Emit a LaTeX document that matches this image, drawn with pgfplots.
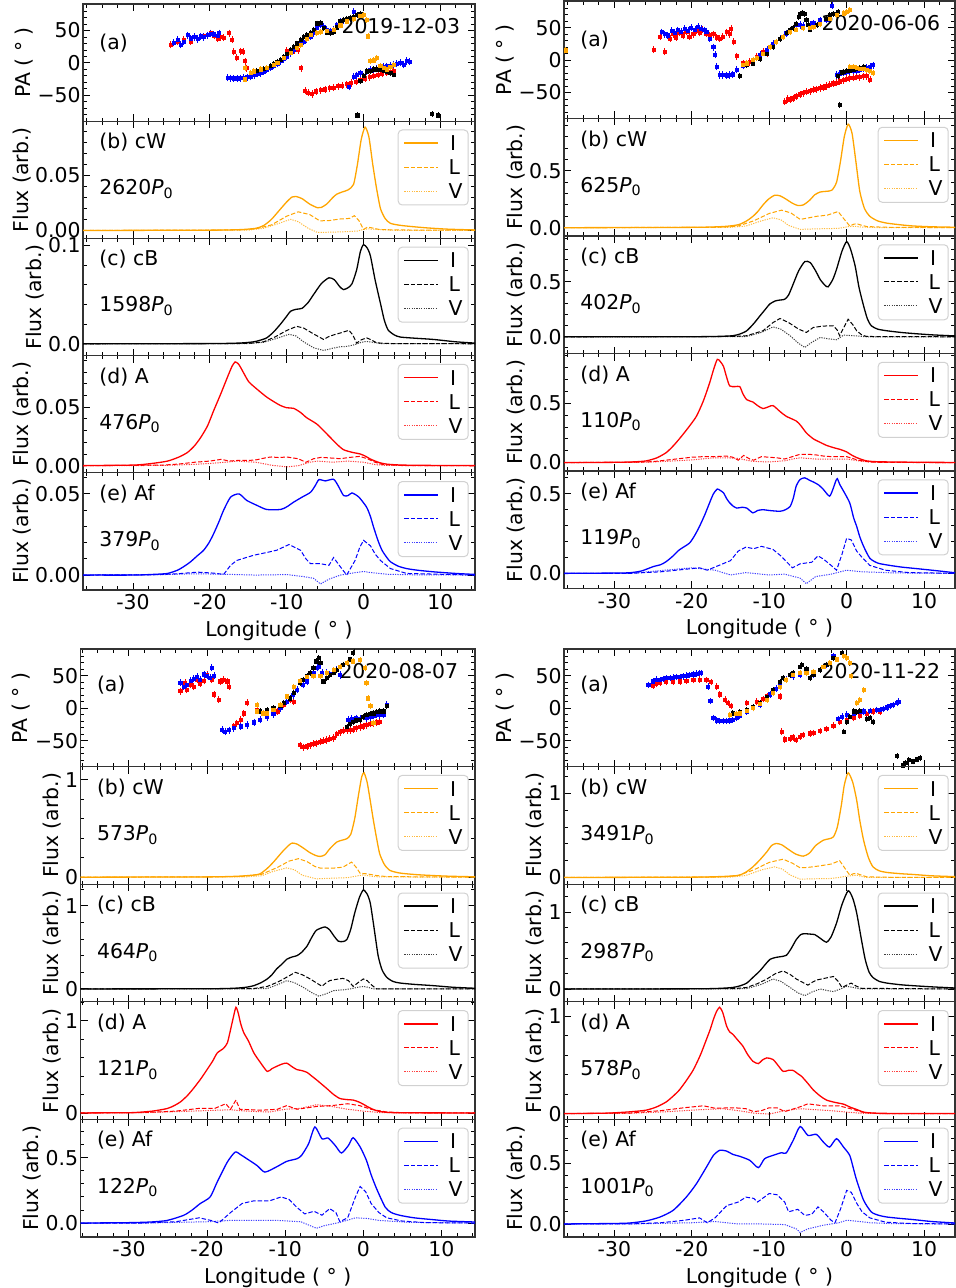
\documentclass[border=0pt]{standalone}
\usepackage{fontspec}
\setmainfont{DejaVu Sans}
\usepackage{pgfplots}
\pgfplotsset{compat=1.18}
\definecolor{mplorange}{RGB}{255,165,0}
\tikzset{
  Iline/.style={line width=0.65pt, smooth, tension=0.4},
  Lline/.style={line width=0.5pt, dash pattern=on 2.2pt off 1pt},
  Vline/.style={line width=0.5pt, dash pattern=on 0.6pt off 0.6pt, opacity=0.75},
}
\pgfplotsset{
  base/.style={scale only axis, anchor=north west,
    font=\fontsize{10.2}{12.2}\selectfont,
    scaled ticks=false,
    xtick={-30,-20,-10,0,10}, xticklabels={},
    minor xtick={-36,-34,...,14},
    tick align=inside,
    major tick length=3.5pt, minor tick length=1.8pt,
    every tick/.style={black, line width=0.45pt},
    axis line style={black!80, line width=0.6pt},
    yticklabel style={inner sep=1pt},
    xticklabel style={inner sep=2pt},
    ylabel style={inner sep=1pt},
    /pgf/number format/assume math mode=true},
  flux/.style={base, ylabel={Flux (arb.)}},
  pa/.style={base, ymin=-90, ymax=91, ytick={-50,0,50}, yticklabels={−50,0,50},
    minor ytick={-80,-70,-60,-40,-30,-20,-10,10,20,30,40,60,70,80,90},
    ylabel={PA ( ° )}},
  bottom/.style={xticklabels={-30,-20,-10,0,10}, xlabel={Longitude ( ° )}},
  TL/.style={width=196pt, height=58.6pt, xmin=-36.5, xmax=14.5},
  TR/.style={width=195.5pt, height=58.75pt, xmin=-36.5, xmax=14},
  BL/.style={width=197.25pt, height=58.8pt, xmin=-36.2, xmax=14.3},
  BR/.style={width=195.5pt, height=58.8pt, xmin=-36.5, xmax=14},
  pts/.style={only marks, mark=square*, mark size=0.8pt,
    error bars/y dir=both, error bars/y fixed=#1,
    error bars/error bar style={line width=0.35pt},
    error bars/error mark options={mark size=0.8pt, line width=0.35pt}},
}
% legend: box and samples drawn as plots (x positions per block in \lxL,\lxR,\lxa,\lxb)
\newcommand{\leg}[6]{%
  \addplot[draw=black!18, fill=white, line width=0.5pt, rounded corners=2pt] coordinates {(\lxL,#2) (\lxR,#2) (\lxR,#3) (\lxL,#3)} -- cycle;
  \addplot[#1, line width=0.75pt] coordinates {(\lxa,#4) (\lxb,#4)};
  \addplot[#1, Lline] coordinates {(\lxa,#5) (\lxb,#5)};
  \addplot[#1, Vline] coordinates {(\lxa,#6) (\lxb,#6)};
  \node[anchor=west, inner sep=0pt] at ([xshift=-12.6pt,yshift=-11pt]rel axis cs:1,1) {I};
  \node[anchor=west, inner sep=0pt] at ([xshift=-13.4pt,yshift=-23pt]rel axis cs:1,1) {L};
  \node[anchor=west, inner sep=0pt] at ([xshift=-13.4pt,yshift=-35pt]rel axis cs:1,1) {V};
}
\begin{document}
\begin{tikzpicture}[font=\fontsize{10.2}{12.2}\selectfont]
%================ TOP LEFT 2019-12-03 ================
\def\lxL{4.508}\def\lxR{13.615}\def\lxa{5.315}\def\lxb{9.66}
\begin{axis}[pa, TL, at={(41.5pt,-2pt)}]
\addplot[red, pts=3] coordinates {(-25.1,28) (-24.2,33) (-23.4,36) (-22.5,33) (-21.6,37) (-20.8,41) (-19.9,46) (-19.4,42) (-19,38) (-18.6,40) (-18.2,39) (-17.5,46) (-17.1,36) (-16.9,17) (-16.5,8) (-16,18) (-15.7,17) (-15.4,2.5) (-15.2,-8) (-10,19) (-9.5,19) (-9,19.5) (-8.5,20) (-8.1,-8) (-7.6,-43) (-7.2,-46) (-6.7,-48) (-6.2,-44) (-5.6,-42) (-5,-41) (-4.4,-39) (-3.9,-38) (-3.3,-36) (-2.8,-35) (-2.2,-33) (-1.6,-31) (-1,-29) (-0.4,-26.5) (0.2,-24) (0.8,-22) (1.3,-20) (1.9,-18) (2.4,-17) (3,-15) (3.5,-14) (3.9,-13)};
\addplot[blue, pts=3] coordinates {(-24.7,31) (-24.2,36) (-23.8,28) (-23.4,33) (-22.9,43) (-22.5,38) (-22,40) (-21.6,37) (-21.2,41) (-20.8,40) (-20.3,43) (-19.9,45) (-19.5,44) (-19,42) (-18.8,46) (-17.7,-23) (-17.3,-23.5) (-16.9,-24) (-16.4,-24) (-16,-23.5) (-15.6,-23) (-15.1,-22) (-14.7,-21.4) (-14.2,-19) (-13.8,-17) (-13.4,-16) (-13,-13) (-12.6,-10) (-12.1,-7) (-11.7,-4) (-11.2,-1) (-10.8,2.5) (-10.4,6) (-10,10) (-9.5,15) (-9.1,20) (-8.7,25) (-8.2,29) (-7.8,33) (-7.4,37) (-6.9,41) (-6.5,46) (-6.1,54) (-5.6,59) (-5.2,56) (-4.8,51) (-4.3,49) (-3.9,51) (-3.5,58) (-3,64) (-2.6,66) (-2.2,67) (-1.7,69) (-1.3,79) (-1.9,-37) (-1.3,-21) (-0.9,-19) (-0.4,-16) (0.4,-13) (0.9,-11) (1.3,-10) (1.7,-9) (2.2,-8) (2.6,-6) (3,-5) (3.5,-4) (3.9,-2.5) (4.3,-1) (4.8,0) (5.2,-3) (5.6,3) (6,2)};
\addplot[black, pts=2] coordinates {(-14.3,-14) (-13.9,-12) (-13.4,-11) (-13,-9.5) (-12.6,-8) (-12.1,-5) (-11.7,-2) (-11.2,2) (-10.8,5) (-10.4,9) (-10,14) (-9.5,20) (-9.1,25) (-8.7,30) (-8.2,36) (-7.8,40) (-7.4,43) (-6.9,46) (-6.5,51) (-6,61) (-5.6,62) (-5.2,54) (-4.8,47) (-4.3,46) (-3.9,48) (-3.5,55) (-3,64) (-2.6,66) (-2.2,68) (-1.7,70) (-1.3,71) (-0.8,74) (-0.4,76) (-0.8,-81) (-0.4,-28) (0,-20) (0.4,-13) (0.9,-12) (1.3,-10) (1.7,-10) (2.2,-11) (2.6,-12) (3,-13) (3.5,-16) (3.9,-18) (8.9,-79) (9.7,-81)};
\addplot[mplorange, pts=2] coordinates {(-15.4,-25.5) (-15.4,-8) (-14.7,-15) (-14.3,-13) (-13.4,-10) (-12.6,-8) (-11.7,-3) (-11.2,0) (-10.4,8) (-9.5,16) (-8.7,23) (-8.2,28) (-7.4,37) (-6.9,43) (-6.1,46) (-5.6,48) (-4.8,49) (-3.9,51) (-3,58) (-2.2,64) (-1.3,68) (-0.4,72) (0,74) (0.4,66) (0.6,41) (0.9,2.5) (1.3,4) (1.7,8) (2.2,-5) (2.6,-8) (3,-10) (3.5,-6) (3.9,-2.5)};
\node[anchor=west] at (rel axis cs:0.024,0.67) {(a)};
\node[anchor=east] at (rel axis cs:0.98,0.81) {2019-12-03};
\end{axis}
\begin{axis}[flux, TL, at={(41.5pt,-60.6pt)}, ymin=-0.0072, ymax=0.0995, ytick={0,0.05}, yticklabels={0.00,0.05}, minor ytick={0.01,0.02,0.03,0.04,0.06,0.07,0.08,0.09}]
\addplot[mplorange,Iline] coordinates {(-36.5,0) (-20,0.0003) (-16,0.0008) (-14,0.002) (-13,0.0045) (-12,0.01) (-11,0.018) (-10,0.026) (-9.3,0.0305) (-8.8,0.031) (-8,0.029) (-7,0.024) (-6,0.0207) (-5.5,0.021) (-4.8,0.024) (-4,0.03) (-3.5,0.033) (-2.8,0.035) (-2,0.037) (-1.3,0.042) (-0.8,0.06) (-0.3,0.083) (0.2,0.094) (0.7,0.085) (1.2,0.06) (1.7,0.038) (2.2,0.02) (2.8,0.011) (3.5,0.0065) (5,0.0045) (8,0.0025) (11,0.0012) (14.5,0.0005)};
\addplot[mplorange,Lline] coordinates {(-36.5,0) (-16,0.0005) (-14,0.0015) (-12,0.005) (-10,0.013) (-8.5,0.017) (-7,0.0145) (-5.7,0.0088) (-4.5,0.009) (-3,0.0105) (-1.8,0.011) (-1.2,0.0135) (-0.6,0.009) (0,0.001) (0.5,0.003) (1,0.0025) (2,0.001) (4,0.0005) (14.5,0.0002)};
\addplot[mplorange,Vline] coordinates {(-36.5,0) (-15,0.0003) (-13,0.002) (-11,0.0065) (-9.5,0.0102) (-8.5,0.008) (-7.2,0.002) (-6,-0.0018) (-4,-0.0015) (-2,-0.001) (-0.8,-0.0005) (0,0.001) (0.6,0.0015) (2,0.0008) (4,0.0002) (14.5,0)};
\leg{mplorange}{0.09149}{0.02321}{0.07947}{0.05762}{0.03577}
\node[anchor=west] at (rel axis cs:0.024,0.82) {(b) cW};
\node[anchor=west] at (rel axis cs:0.024,0.42) {2620\textit{P}\textsubscript{0}};
\end{axis}
\begin{axis}[flux, TL, at={(41.5pt,-119.2pt)}, ymin=-0.012, ymax=0.107, ytick={0,0.1}, yticklabels={0.0,0.1}, minor ytick={0.02,0.04,0.06,0.08}]
\addplot[black,Iline] coordinates {(-36.5,0) (-20,0.0002) (-16,0.0008) (-14.3,0.002) (-13.5,0.0035) (-12.6,0.006) (-11.7,0.012) (-10.8,0.02) (-10,0.028) (-9.5,0.033) (-8.8,0.035) (-8,0.036) (-7.2,0.042) (-6.5,0.05) (-5.5,0.061) (-4.5,0.067) (-3.8,0.065) (-3.1,0.058) (-2.6,0.055) (-2,0.057) (-1.5,0.061) (-0.9,0.075) (-0.4,0.094) (0,0.1007) (0.5,0.097) (0.9,0.089) (1.5,0.065) (2.2,0.041) (2.7,0.024) (3.2,0.014) (4,0.009) (4.8,0.0068) (7,0.0055) (9.1,0.0044) (12,0.002) (14.5,0.0007)};
\addplot[black,Lline] coordinates {(-36.5,0) (-15,0.0003) (-13,0.002) (-11.5,0.007) (-10,0.0135) (-8.7,0.0177) (-7.8,0.016) (-6.5,0.01) (-5.2,0.0044) (-4.6,0.007) (-3.9,0.009) (-3,0.011) (-1.9,0.0137) (-1.4,0.009) (-0.9,0.0007) (-0.3,0.004) (0.4,0.006) (1,0.004) (1.7,0.001) (3,0.0003) (14.5,0)};
\addplot[black,Vline] coordinates {(-36.5,0) (-15,0.0002) (-13,0.0015) (-11.5,0.005) (-9.7,0.0096) (-8.8,0.008) (-7.8,0.002) (-6.5,-0.004) (-5.2,-0.0068) (-4,-0.0045) (-3,-0.003) (-2.2,-0.0027) (-1.2,-0.001) (-0.3,0.0015) (0.4,0.0024) (1.2,0.0015) (2.2,0.0002) (14.5,0)};
\leg{black}{0.09806}{0.02191}{0.08466}{0.06029}{0.03592}
\node[anchor=west] at (rel axis cs:0.024,0.82) {(c) cB};
\node[anchor=west] at (rel axis cs:0.024,0.42) {1598\textit{P}\textsubscript{0}};
\end{axis}
\begin{axis}[flux, TL, at={(41.5pt,-177.8pt)}, ymin=-0.006, ymax=0.094, ytick={0,0.05}, yticklabels={0.00,0.05}, minor ytick={0.01,0.02,0.03,0.04,0.06,0.07,0.08,0.09}]
\addplot[red,Iline] coordinates {(-36.5,0.0002) (-29.9,0.0006) (-27.5,0.002) (-25.5,0.004) (-24,0.0075) (-22.9,0.0114) (-22,0.017) (-21.2,0.024) (-20.3,0.034) (-19.5,0.047) (-18.6,0.061) (-17.7,0.0757) (-17.1,0.085) (-16.7,0.0886) (-16.3,0.087) (-16,0.084) (-15.5,0.078) (-14.9,0.0714) (-13.8,0.065) (-12.6,0.0586) (-11.5,0.054) (-10.8,0.0514) (-10,0.0495) (-9.1,0.049) (-8.2,0.0455) (-7.4,0.041) (-6.1,0.0357) (-5.2,0.03) (-4.3,0.024) (-3.4,0.018) (-2.6,0.0137) (-1.5,0.0115) (-0.4,0.01) (0.3,0.008) (0.9,0.0057) (2,0.0028) (3,0.0014) (5,0.0006) (9.1,0.0003) (14.5,0.0002)};
\addplot[red,Lline] coordinates {(-36.5,0) (-26,0.0006) (-24,0.0015) (-22,0.003) (-20,0.004) (-18.5,0.0055) (-17.5,0.004) (-16.5,0.0045) (-15,0.0045) (-14,0.005) (-12.6,0.007) (-12,0.0075) (-11,0.007) (-10,0.0075) (-8.5,0.006) (-7.5,0.003) (-6.5,0.006) (-5.5,0.0072) (-4,0.0065) (-3,0.006) (-2,0.007) (-0.5,0.008) (0.5,0.006) (1.5,0.003) (2.5,0.001) (5,0.0002) (14.5,0)};
\addplot[red,Vline] coordinates {(-36.5,0) (-26,0.0003) (-22,0.0012) (-20,0.002) (-18,0.003) (-16.5,0.004) (-14,0.003) (-12,0.0005) (-10,-0.001) (-8.5,0) (-7,0.003) (-6,0.004) (-4,0.003) (-2,0.004) (0,0.003) (1.5,0.001) (3,0.0003) (14.5,0)};
\leg{red}{0.08649}{0.0225}{0.07523}{0.05475}{0.03427}
\node[anchor=west] at (rel axis cs:0.024,0.82) {(d) A};
\node[anchor=west] at (rel axis cs:0.024,0.42) {476\textit{P}\textsubscript{0}};
\end{axis}
\begin{axis}[flux, TL, bottom, at={(41.5pt,-236.4pt)}, ymin=-0.0092, ymax=0.063, ytick={0,0.05}, yticklabels={0.00,0.05}, minor ytick={0.01,0.02,0.03,0.04,0.06}]
\addplot[blue,Iline] coordinates {(-36.5,0) (-29.9,0) (-27,0.0005) (-25.5,0.001) (-24.2,0.003) (-23.3,0.0055) (-22.5,0.0082) (-21.6,0.012) (-20.8,0.0153) (-20.1,0.02) (-19.5,0.0255) (-18.8,0.033) (-18.2,0.04) (-17.3,0.048) (-16.2,0.05) (-15.2,0.046) (-13.9,0.043) (-12.6,0.0404) (-10.8,0.0404) (-10,0.042) (-9.1,0.0449) (-8,0.048) (-6.9,0.051) (-6.3,0.055) (-5.8,0.0588) (-5,0.058) (-3.9,0.059) (-3.3,0.055) (-2.6,0.049) (-2,0.049) (-1.5,0.0506) (-0.6,0.048) (0.4,0.0418) (0.9,0.036) (1.3,0.0296) (1.9,0.021) (2.4,0.0153) (3,0.011) (3.5,0.0082) (4.5,0.0055) (5.6,0.004) (7,0.003) (9.1,0.002) (12,0.001) (14.5,0.0004)};
\addplot[blue,Lline] coordinates {(-36.5,0) (-27,0.0002) (-24.2,0.0008) (-21.6,0.0018) (-19.5,0.0012) (-18.2,0.0004) (-17.3,0.006) (-16.5,0.009) (-14.3,0.0122) (-12.5,0.014) (-11.3,0.0153) (-9.7,0.0188) (-8.2,0.0153) (-7.5,0.01) (-6.9,0.007) (-5.6,0.007) (-4.5,0.006) (-3.9,0.0108) (-3,0.005) (-2.2,0) (-1.1,0.009) (-0.5,0.017) (0,0.0214) (0.9,0.018) (1.5,0.013) (2.2,0.009) (3.5,0.004) (5.6,0.001) (14.5,0)};
\addplot[blue,Vline] coordinates {(-36.5,0) (-26,0.0003) (-22,0.0008) (-18,0.0005) (-14,0) (-10,0.0003) (-8,-0.0008) (-6.5,-0.002) (-5.6,-0.0055) (-4.5,-0.0025) (-3,0) (-1.5,0.0012) (0,0.0022) (1,0.0015) (3,0.0005) (6,0.0002) (14.5,0)};
\leg{blue}{0.05758}{0.01138}{0.04945}{0.03466}{0.01988}
\node[anchor=west] at (rel axis cs:0.024,0.82) {(e) Af};
\node[anchor=west] at (rel axis cs:0.024,0.42) {379\textit{P}\textsubscript{0}};
\end{axis}
%================ TOP RIGHT 2020-06-06 ================
\def\lxL{4.081}\def\lxR{13.122}\def\lxa{4.882}\def\lxb{9.195}
\begin{axis}[pa, TR, at={(282pt,-0.5pt)}]
\addplot[red, pts=3] coordinates {(-24.9,16) (-24.1,36) (-23.5,13) (-22.8,33) (-22.4,40) (-22,35) (-21.6,42) (-21.1,38) (-20.7,44) (-20.3,36) (-19.8,40) (-19.4,45) (-19,42) (-18.6,47) (-18.1,41) (-17.7,38) (-17.2,40) (-16.8,35) (-16.4,33) (-16,36) (-15.5,43) (-15.1,40) (-14.9,48) (-14.6,28) (-14.2,6) (-13.4,-5) (-12.5,-3) (-11.6,5) (-10.8,13) (-10.3,10) (-8,-64) (-7.6,-60) (-7.3,-61) (-6.9,-59) (-6.5,-56) (-6,-53) (-5.6,-51) (-5.2,-49) (-4.7,-48) (-4.3,-46) (-3.9,-45) (-3.4,-43) (-3,-42) (-2.6,-40) (-2.2,-38) (-1.7,-36) (-1.3,-35) (-0.9,-33) (-0.4,-31) (0,-29) (0.4,-28) (0.9,-27) (1.3,-26) (1.7,-26.5) (2.2,-25) (2.6,-24.5) (3,-30)};
\addplot[blue, pts=3] coordinates {(-23.9,43) (-23.5,40) (-23.1,38) (-22.6,45) (-22.2,42) (-21.8,46) (-21.4,44) (-20.9,48) (-20.5,45) (-20.1,50) (-19.6,47) (-19.2,51) (-18.8,48) (-18.4,46) (-18.1,44) (-17.7,33) (-17.2,20) (-17,8) (-16.8,-10) (-16.4,-23) (-16,-23) (-15.5,-23.5) (-15.1,-23) (-14.7,-22) (-14.2,-15) (-13.4,-9) (-12.9,-5) (-12.1,0) (-11.2,8) (-10.3,16) (-9.5,25) (-8.6,33) (-7.8,41) (-7.3,46) (-6.5,54) (-6,54) (-5.6,53) (-4.7,54) (-4.3,57) (-3.4,61) (-2.6,62) (-2.2,64) (-1.9,84) (-1.3,-23) (-0.9,-21) (-0.4,-19) (0,-18) (0.4,-17) (0.9,-16) (1.3,-16) (1.7,-15) (2.2,-13) (2.6,-12) (3,-10) (3.4,-8)};
\addplot[black, pts=2] coordinates {(-13.8,-25) (-13.4,-8) (-12.9,-7) (-12.1,-5) (-11.2,2) (-10.3,10) (-9.5,20) (-8.6,33) (-7.7,42) (-7.3,46) (-6.9,50) (-6.5,56) (-6.2,66) (-6,71) (-5.7,73) (-5.4,71) (-5.2,62) (-5,54) (-4.7,47) (-4.3,51) (-3.8,54) (-3.4,56) (-2.6,63) (-2.2,69) (-1.7,71) (-1.1,74) (-0.9,-69) (-1.1,-25) (-0.6,-19) (-0.4,-18) (0,-17) (0.4,-16) (0.9,-15) (1.3,-13) (1.7,-12) (2.2,-10)};
\addplot[mplorange, pts=2] coordinates {(-36.3,15) (-13.4,-8) (-12.9,-5) (-12.1,0) (-11.6,3) (-10.8,10) (-9.9,20) (-9.1,28) (-8.2,36) (-7.3,43) (-6.5,47) (-5.6,49) (-4.7,50) (-4.3,51) (-3.4,56) (-2.2,64) (-1.3,69) (-0.4,72) (0,74) (0.4,77) (0.4,-10) (0.9,-11) (1.3,-12) (1.7,-13) (2.2,-13) (2.6,-15) (3,-17) (3.4,-20)};
\node[anchor=west] at (rel axis cs:0.024,0.67) {(a)};
\node[anchor=east] at (rel axis cs:0.98,0.81) {2020-06-06};
\end{axis}
\begin{axis}[flux, TR, at={(282pt,-59.25pt)}, ymin=-0.073, ymax=0.96, ytick={0,0.5}, yticklabels={0.0,0.5}, minor ytick={0.1,0.2,0.3,0.4,0.6,0.7,0.8,0.9}]
\addplot[mplorange,Iline] coordinates {(-36.5,0) (-20,0.003) (-16,0.01) (-14.5,0.02) (-13.8,0.03) (-12.9,0.06) (-12.1,0.1) (-11.5,0.14) (-10.8,0.2) (-10.1,0.25) (-9.3,0.285) (-8.6,0.28) (-7.8,0.25) (-7,0.215) (-6.3,0.195) (-5.6,0.2) (-4.8,0.24) (-4.1,0.29) (-3.4,0.314) (-2.6,0.32) (-1.9,0.33) (-1.3,0.4) (-0.8,0.58) (-0.3,0.8) (0.2,0.91) (0.7,0.83) (1.2,0.58) (1.7,0.32) (2.3,0.17) (3,0.1) (4,0.06) (5.2,0.04) (7,0.025) (8.6,0.015) (11,0.008) (14,0.004)};
\addplot[mplorange,Lline] coordinates {(-36.5,0) (-16,0.004) (-14,0.015) (-12,0.06) (-10,0.125) (-8.4,0.154) (-7.2,0.13) (-6,0.073) (-5,0.085) (-3.9,0.1) (-2.5,0.11) (-1.1,0.142) (-0.5,0.09) (0.4,0.015) (0.9,0.03) (1.3,0.035) (2,0.02) (2.6,0.01) (5,0.004) (14,0)};
\addplot[mplorange,Vline] coordinates {(-36.5,0) (-15,0.003) (-13,0.015) (-11,0.06) (-9.5,0.087) (-8.5,0.07) (-7.5,0.02) (-6,-0.015) (-4,-0.01) (-2,-0.008) (-1,-0.005) (0.3,0.01) (1,0.012) (2,0.005) (4,0.001) (14,0)};
\leg{mplorange}{0.88264}{0.22327}{0.76659}{0.55559}{0.3446}
\node[anchor=west] at (rel axis cs:0.024,0.82) {(b) cW};
\node[anchor=west] at (rel axis cs:0.024,0.42) {625\textit{P}\textsubscript{0}};
\end{axis}
\begin{axis}[flux, TR, at={(282pt,-118pt)}, ymin=-0.152, ymax=0.918, ytick={0,0.5}, yticklabels={0.0,0.5}, minor ytick={-0.1,0.1,0.2,0.3,0.4,0.6,0.7,0.8,0.9}]
\addplot[black,Iline] coordinates {(-36.5,0) (-20,0.001) (-16.5,0.004) (-14.7,0.01) (-13.8,0.025) (-12.9,0.055) (-12,0.12) (-11.2,0.19) (-10.5,0.25) (-9.9,0.3) (-9.2,0.327) (-8.8,0.333) (-8,0.342) (-7.5,0.38) (-6.9,0.48) (-6.2,0.6) (-5.4,0.685) (-4.7,0.676) (-4,0.6) (-3.4,0.52) (-2.8,0.47) (-2.4,0.455) (-1.8,0.52) (-1.3,0.615) (-0.6,0.78) (0,0.867) (0.5,0.8) (1.1,0.645) (1.6,0.45) (2.2,0.28) (2.7,0.16) (3.2,0.1) (4,0.07) (5.2,0.055) (7,0.04) (8.6,0.03) (11,0.018) (14,0.008)};
\addplot[black,Lline] coordinates {(-36.5,0) (-14.5,0.003) (-12.9,0.01) (-10.8,0.055) (-9.5,0.13) (-8.6,0.167) (-7.5,0.13) (-6.2,0.07) (-5.2,0.04) (-4.3,0.085) (-3,0.098) (-1.7,0.1) (-1.2,0.06) (-0.9,0.01) (-0.4,0.08) (0.2,0.16) (0.8,0.11) (1.3,0.055) (2,0.015) (2.6,0.003) (14,0)};
\addplot[black,Vline] coordinates {(-36.5,0) (-14,0.001) (-12.9,0.003) (-11,0.04) (-9.5,0.09) (-8.5,0.07) (-7.3,0.01) (-6.2,-0.06) (-5.4,-0.097) (-4.5,-0.05) (-3.4,-0.006) (-2.2,-0.02) (-1.3,-0.027) (-0.4,0.015) (0.9,0.01) (2.6,0) (14,0)};
\leg{black}{0.83787}{0.15489}{0.71766}{0.49911}{0.28056}
\node[anchor=west] at (rel axis cs:0.024,0.82) {(c) cB};
\node[anchor=west] at (rel axis cs:0.024,0.42) {402\textit{P}\textsubscript{0}};
\end{axis}
\begin{axis}[flux, TR, at={(282pt,-176.75pt)}, ymin=-0.071, ymax=0.919, ytick={0,0.5}, yticklabels={0.0,0.5}, minor ytick={0.1,0.2,0.3,0.4,0.6,0.7,0.8,0.9}]
\addplot[red,Iline] coordinates {(-36.5,0) (-30,0.002) (-27.5,0.006) (-25.9,0.014) (-24.5,0.04) (-23.3,0.084) (-22.4,0.14) (-21.6,0.2) (-20.5,0.29) (-19.4,0.39) (-18.5,0.52) (-17.7,0.67) (-17.2,0.78) (-16.7,0.87) (-16.3,0.85) (-15.9,0.81) (-15.5,0.72) (-15.1,0.646) (-14.4,0.64) (-13.8,0.64) (-13.4,0.58) (-12.9,0.53) (-12.1,0.51) (-11.5,0.48) (-10.8,0.455) (-10.1,0.47) (-9.5,0.48) (-8.6,0.43) (-7.8,0.39) (-6.5,0.35) (-5.9,0.31) (-5.2,0.25) (-4.3,0.2) (-3.4,0.17) (-2.6,0.145) (-1.7,0.126) (-0.8,0.11) (0,0.09) (0.6,0.065) (1.3,0.042) (2,0.025) (2.6,0.014) (4,0.007) (8.6,0.003) (14,0.001)};
\addplot[red,Lline] coordinates {(-36.5,0) (-27,0.003) (-25,0.008) (-22,0.03) (-20,0.045) (-18.5,0.05) (-17,0.05) (-15.5,0.055) (-14.7,0.045) (-14,0.02) (-13.3,0.06) (-12.5,0.03) (-12,0.02) (-11,0.05) (-10,0.045) (-9,0.04) (-8,0.03) (-7,0.05) (-6,0.07) (-5,0.07) (-4,0.065) (-3,0.055) (-2,0.05) (-1,0.05) (0,0.05) (1,0.03) (1.5,0.02) (3,0.005) (5,0.001) (14,0)};
\addplot[red,Vline] coordinates {(-36.5,0) (-27,0.002) (-25,0.005) (-22,0.015) (-20,0.022) (-18,0.035) (-17,0.04) (-15.5,0.04) (-14,0.035) (-12.5,0.015) (-12,0.01) (-10,0.005) (-9,0.01) (-8,0.015) (-7,0.03) (-6,0.04) (-5,0.035) (-4,0.03) (-2,0.03) (0,0.03) (1,0.02) (2,0.01) (4,0.002) (14,0)};
\leg{red}{0.84486}{0.21294}{0.73364}{0.53142}{0.32922}
\node[anchor=west] at (rel axis cs:0.024,0.82) {(d) A};
\node[anchor=west] at (rel axis cs:0.024,0.42) {110\textit{P}\textsubscript{0}};
\end{axis}
\begin{axis}[flux, TR, bottom, at={(282pt,-235.5pt)}, ymin=-0.095, ymax=0.643, ytick={0,0.5}, yticklabels={0.0,0.5}, minor ytick={0.1,0.2,0.3,0.4,0.6}]
\addplot[blue,Iline] coordinates {(-36.5,0) (-30,0.002) (-28,0.004) (-26.5,0.015) (-25,0.042) (-24,0.055) (-23.3,0.074) (-22.4,0.11) (-21.6,0.148) (-20.3,0.19) (-19.6,0.24) (-19,0.295) (-18.3,0.37) (-17.7,0.443) (-17.2,0.5) (-16.7,0.53) (-16.3,0.52) (-15.9,0.506) (-15.5,0.47) (-15.1,0.443) (-14.6,0.42) (-14.2,0.41) (-13.5,0.415) (-12.9,0.41) (-12.1,0.38) (-11.5,0.395) (-10.8,0.4) (-10,0.395) (-8.6,0.39) (-7.9,0.4) (-7.3,0.42) (-6.9,0.47) (-6.5,0.55) (-6,0.59) (-5.4,0.6) (-4.8,0.585) (-4.3,0.574) (-3.6,0.555) (-3,0.527) (-2.2,0.485) (-1.7,0.538) (-1.4,0.58) (-1.2,0.595) (-0.9,0.56) (-0.4,0.517) (0.4,0.443) (0.9,0.35) (1.3,0.295) (1.7,0.23) (2.2,0.169) (3,0.095) (4,0.065) (5.2,0.053) (7,0.04) (8.6,0.032) (11,0.02) (14,0.004)};
\addplot[blue,Lline] coordinates {(-36.5,0) (-28,0) (-24,0.01) (-20,0.03) (-19,0.035) (-18,0.02) (-16.5,0.05) (-15,0.08) (-14,0.14) (-13,0.165) (-12,0.155) (-11,0.17) (-9.5,0.15) (-8.5,0.11) (-7,0.035) (-6,0.06) (-4.5,0.07) (-3.7,0.11) (-3,0.09) (-2,0.05) (-1.3,0.02) (-0.6,0.12) (0,0.22) (0.6,0.21) (1.3,0.14) (2,0.1) (3,0.05) (5,0.02) (8,0.005) (14,0)};
\addplot[blue,Vline] coordinates {(-36.5,0) (-28,0) (-20,0.035) (-17,0.02) (-15,-0.01) (-13,0.005) (-10,-0.01) (-8,-0.005) (-6,-0.03) (-5.2,-0.065) (-4,-0.02) (-2,-0.005) (0,0.02) (2,0.01) (6,0.003) (14,0)};
\leg{blue}{0.58773}{0.11667}{0.50482}{0.35408}{0.20334}
\node[anchor=west] at (rel axis cs:0.024,0.82) {(e) Af};
\node[anchor=west] at (rel axis cs:0.024,0.42) {119\textit{P}\textsubscript{0}};
\end{axis}
%================ BOTTOM LEFT 2020-08-07 ================
\def\lxL{4.469}\def\lxR{13.43}\def\lxa{5.263}\def\lxb{9.538}
\begin{axis}[pa, BL, at={(40.25pt,-324.5pt)}]
\addplot[red, pts=3] coordinates {(-23.4,26) (-22.8,39) (-22.6,28) (-22.1,36) (-21.7,33) (-21.3,44) (-20.9,38) (-20.4,42) (-20,51) (-19.6,46) (-19.4,44) (-19.1,21) (-18.5,13) (-18.3,41) (-17.9,44) (-17.4,41) (-17.2,33) (-16.6,-28) (-16.2,-23) (-15.7,-18) (-15.3,-8) (-14.9,8) (-13.6,-3) (-12.3,-8) (-11,-5) (-10.2,5) (-9.4,13) (-8.9,10) (-8.1,-57) (-7.7,-60) (-7.2,-59) (-6.8,-57) (-6.4,-55) (-6,-54) (-5.5,-52) (-5.1,-50) (-4.7,-49) (-4.3,-47) (-3.8,-46) (-3.4,-40) (-3,-37) (-2.6,-35) (-2.1,-34) (-1.7,-34) (-1.3,-33) (-0.9,-31) (-0.4,-29) (0,-28) (0.4,-26) (0.9,-24) (1.3,-23) (1.7,-22) (2.1,-21)};
\addplot[blue, pts=3] coordinates {(-23.4,39) (-23,33) (-22.6,36) (-22.1,42) (-21.7,45) (-21.3,48) (-20.9,44) (-20.4,52) (-20,50) (-19.6,47) (-19.4,62) (-19.1,50) (-18.1,-33) (-17.7,-36) (-17.2,-34) (-16.6,-31) (-15.7,-28) (-14.9,-26) (-14,-22) (-13.2,-18) (-12.3,-14) (-11.5,-9) (-10.6,0) (-9.8,10) (-9,20) (-8.5,28) (-7.7,36) (-7.2,41) (-6.4,54) (-5.9,62) (-5.7,64) (-5.3,54) (-4.7,54) (-4.3,52) (-3.8,56) (-3.4,59) (-3,51) (-1.9,-18) (-1.5,-16) (-0.9,-15.5) (-0.4,-16) (0.4,-15.5) (0.9,-14) (1.3,-12) (1.7,-10) (2.1,-11) (2.6,-10) (3,5)};
\addplot[black, pts=2] coordinates {(-13.2,-5) (-12.3,-3) (-11.5,0) (-10.6,4) (-10.2,8) (-9.4,15) (-8.9,23) (-8.1,39) (-7.7,44) (-7.2,49) (-6.8,54) (-6.4,62) (-6,72) (-5.7,77) (-5.5,70) (-5.1,41) (-4.7,46) (-4.3,51) (-3.8,55) (-3.4,59) (-3,64) (-2.6,67) (-2.1,70) (-1.7,75) (-1.3,85) (-1.1,93) (-2.1,-29) (-1.7,-24) (-1.3,-21) (-0.9,-19) (-0.4,-18) (0,-14) (0.4,-10) (0.9,-9) (1.3,-8) (1.7,-6) (2.1,-5) (2.6,-5) (3,3)};
\addplot[mplorange, pts=2] coordinates {(-13.6,5) (-13.6,-5) (-12.8,-8) (-12.3,-8) (-11.5,-3) (-10.6,5) (-9.8,18) (-8.9,33) (-8.1,42) (-7.2,48) (-6.4,49) (-5.5,50) (-4.7,54) (-3.8,59) (-3,64) (-2.1,70) (-1.3,72) (-0.4,74) (0.2,62) (0.4,39) (0.6,15) (0.9,3) (1.3,-23)};
\node[anchor=west] at (rel axis cs:0.024,0.69) {(a)};
\node[anchor=east] at (rel axis cs:0.975,0.81) {2020-08-07};
\end{axis}
\begin{axis}[flux, BL, at={(40.25pt,-383.3pt)}, ymin=-0.072, ymax=1.134, ytick={0,1}, yticklabels={0,1}, minor ytick={0.2,0.4,0.6,0.8}]
\addplot[mplorange,Iline] coordinates {(-36.2,0) (-20,0.003) (-16,0.01) (-14,0.022) (-13.2,0.035) (-12.3,0.09) (-11.5,0.155) (-10.8,0.22) (-10.2,0.275) (-9.5,0.33) (-9.1,0.35) (-8.5,0.34) (-7.7,0.3) (-6.8,0.25) (-6,0.22) (-5.5,0.213) (-4.9,0.23) (-4.3,0.29) (-3.4,0.36) (-2.7,0.38) (-2.1,0.395) (-1.6,0.44) (-1.1,0.6) (-0.6,0.85) (-0.2,1.03) (0.1,1.07) (0.5,0.97) (0.9,0.78) (1.3,0.58) (1.7,0.4) (2.1,0.24) (2.7,0.13) (3.4,0.07) (4.5,0.045) (5.5,0.035) (7,0.025) (8.9,0.017) (11,0.01) (14.3,0.004)};
\addplot[mplorange,Lline] coordinates {(-36.2,0) (-16,0.005) (-13,0.03) (-11,0.1) (-9.5,0.165) (-8.3,0.19) (-7.2,0.16) (-6.2,0.11) (-5.5,0.093) (-3.8,0.093) (-2.6,0.103) (-1.5,0.155) (-0.9,0.1) (-0.4,0.04) (0.4,0.035) (1.7,0.017) (3,0.006) (14.3,0)};
\addplot[mplorange,Vline] coordinates {(-36.2,0) (-15,0.003) (-13,0.015) (-11.5,0.06) (-9.8,0.096) (-8.8,0.075) (-7.8,0.02) (-6,-0.017) (-4,-0.01) (-2,-0.005) (-1,0.01) (0,0.024) (1,0.01) (2,0.003) (14.3,0)};
\leg{mplorange}{1.04376}{0.27462}{0.90839}{0.66226}{0.41614}
\node[anchor=west] at (rel axis cs:0.024,0.82) {(b) cW};
\node[anchor=west] at (rel axis cs:0.024,0.42) {573\textit{P}\textsubscript{0}};
\end{axis}
\begin{axis}[flux, BL, at={(40.25pt,-442.1pt)}, ymin=-0.155, ymax=1.26, ytick={0,1}, yticklabels={0,1}, minor ytick={0.2,0.4,0.6,0.8,1.2}]
\addplot[black,Iline] coordinates {(-36.2,0) (-20,0.002) (-16.6,0.008) (-15,0.02) (-14,0.04) (-13.1,0.075) (-12.3,0.12) (-11.7,0.17) (-11.1,0.24) (-10.4,0.3) (-9.8,0.357) (-9.1,0.385) (-8.5,0.4) (-7.9,0.44) (-7.2,0.516) (-6.6,0.62) (-6,0.706) (-4.9,0.746) (-4.3,0.71) (-3.8,0.643) (-3.2,0.575) (-2.6,0.57) (-2.1,0.595) (-1.6,0.72) (-1.1,0.913) (-0.5,1.1) (0,1.19) (0.5,1.14) (0.9,1.03) (1.4,0.72) (1.9,0.4) (2.4,0.23) (3,0.14) (3.8,0.09) (4.7,0.071) (6.5,0.055) (8.9,0.04) (11.5,0.02) (14.3,0.008)};
\addplot[black,Lline] coordinates {(-36.2,0) (-14,0.005) (-12.3,0.03) (-11,0.08) (-10.2,0.12) (-8.7,0.2) (-7.8,0.17) (-6.8,0.12) (-5.3,0.032) (-4.8,0.07) (-4.3,0.1) (-3.5,0.115) (-2.6,0.127) (-1.9,0.1) (-1.3,0.03) (-0.6,0.08) (0,0.12) (0.5,0.1) (0.9,0.06) (1.7,0) (14.3,0)};
\addplot[black,Vline] coordinates {(-36.2,0) (-14,0.002) (-12.3,0.005) (-11,0.05) (-9.8,0.1) (-8.8,0.075) (-7.7,0.02) (-6.5,-0.05) (-5.7,-0.087) (-4.8,-0.06) (-3.8,-0.02) (-2.5,-0.01) (-1.7,0) (-0.7,0.02) (0,0.03) (0.6,0.02) (1.3,0) (14.3,0)};
\leg{black}{1.15412}{0.25169}{0.9953}{0.70651}{0.41774}
\node[anchor=west] at (rel axis cs:0.024,0.82) {(c) cB};
\node[anchor=west] at (rel axis cs:0.024,0.42) {464\textit{P}\textsubscript{0}};
\end{axis}
\begin{axis}[flux, BL, at={(40.25pt,-500.9pt)}, ymin=-0.07, ymax=1.205, ytick={0,1}, yticklabels={0,1}, minor ytick={0.2,0.4,0.6,0.8,1.2}]
\addplot[red,Iline] coordinates {(-36.2,0) (-32,0.002) (-29.4,0.004) (-27,0.02) (-25.1,0.048) (-24.2,0.08) (-23.4,0.12) (-22.5,0.19) (-21.7,0.27) (-20.8,0.37) (-20,0.47) (-19.3,0.56) (-18.7,0.65) (-17.9,0.7) (-17.4,0.76) (-17,0.9) (-16.6,1.05) (-16.3,1.146) (-16,1.08) (-15.7,0.97) (-15.3,0.87) (-14.7,0.78) (-14,0.65) (-13.2,0.55) (-12.3,0.45) (-11.7,0.48) (-11.1,0.505) (-10.4,0.53) (-9.8,0.54) (-9.1,0.5) (-8.5,0.47) (-7.9,0.46) (-7.2,0.44) (-6.6,0.4) (-6,0.36) (-5.3,0.31) (-4.7,0.267) (-3.8,0.2) (-3,0.157) (-2.1,0.145) (-1.3,0.14) (-0.6,0.12) (0,0.095) (0.6,0.065) (1.3,0.037) (2,0.018) (3,0.007) (5,0.002) (14.3,0)};
\addplot[red,Lline] coordinates {(-36.2,0) (-28,0.005) (-24,0.02) (-21,0.05) (-19,0.05) (-17.6,0.1) (-17,0.04) (-16.3,0.14) (-15.8,0.04) (-13,0.03) (-11,0.04) (-9.8,0.08) (-8.5,0.04) (-6,0.07) (-4,0.08) (-2,0.1) (-0.5,0.08) (1,0.04) (3,0.01) (6,0) (14.3,0)};
\addplot[red,Vline] coordinates {(-36.2,0) (-28,0.003) (-22,0.02) (-17,0.035) (-15,0.02) (-12,0.01) (-10,0.04) (-8,0.05) (-6,0.09) (-4,0.07) (-2,0.04) (0,0.02) (2,0.005) (5,0) (14.3,0)};
\leg{red}{1.10959}{0.29645}{0.96649}{0.70627}{0.44607}
\node[anchor=west] at (rel axis cs:0.024,0.82) {(d) A};
\node[anchor=west] at (rel axis cs:0.024,0.42) {121\textit{P}\textsubscript{0}};
\end{axis}
\begin{axis}[flux, BL, bottom, at={(40.25pt,-559.7pt)}, ymin=-0.107, ymax=0.793, ytick={0,0.5}, yticklabels={0.0,0.5}, minor ytick={0.1,0.2,0.3,0.4,0.6,0.7}]
\addplot[blue,Iline] coordinates {(-36.2,0) (-30,0.003) (-27.2,0.008) (-25.1,0.02) (-23,0.059) (-21.9,0.1) (-20.9,0.148) (-19.6,0.2) (-18.7,0.314) (-17.4,0.467) (-16.4,0.543) (-15.7,0.523) (-14.9,0.492) (-13.6,0.44) (-12.6,0.39) (-11.1,0.43) (-9.8,0.472) (-8.5,0.492) (-7.9,0.518) (-7,0.607) (-6.2,0.735) (-5.3,0.645) (-4.5,0.65) (-3.6,0.594) (-2.8,0.536) (-1.9,0.594) (-1.3,0.653) (-0.4,0.582) (0.4,0.48) (1,0.37) (1.7,0.263) (2.8,0.122) (3.6,0.08) (4.7,0.059) (6.5,0.04) (8.9,0.026) (11,0.015) (14.3,0.008)};
\addplot[blue,Lline] coordinates {(-36.2,0) (-28,0) (-24,0.01) (-21,0.04) (-19.5,0.02) (-18.5,0) (-17,0.08) (-15.5,0.15) (-14,0.17) (-12,0.17) (-10.5,0.2) (-9.5,0.18) (-8.5,0.12) (-7.5,0.07) (-6.3,0.09) (-5.3,0.06) (-4.3,0.11) (-3.5,0.08) (-3,0.01) (-2,0.04) (-1,0.2) (-0.4,0.28) (0.3,0.24) (1,0.15) (2,0.08) (3,0.04) (5,0.015) (8,0.003) (14.3,0)};
\addplot[blue,Vline] coordinates {(-36.2,0) (-28,0) (-20,0.01) (-17,0.02) (-13,0.02) (-11,0.02) (-8,0.01) (-6,-0.04) (-5,-0.02) (-3,0.005) (-1,0.04) (0.5,0.035) (2,0.02) (6,0.005) (14.3,0)};
\leg{blue}{0.72565}{0.15167}{0.62464}{0.44096}{0.25728}
\node[anchor=west] at (rel axis cs:0.024,0.82) {(e) Af};
\node[anchor=west] at (rel axis cs:0.024,0.42) {122\textit{P}\textsubscript{0}};
\end{axis}
%================ BOTTOM RIGHT 2020-11-22 ================
\def\lxL{4.081}\def\lxR{13.122}\def\lxa{4.882}\def\lxb{9.195}
\begin{axis}[pa, BR, at={(282pt,-324.5pt)}]
\addplot[red, pts=2.5] coordinates {(-25,34.5) (-24.6,37) (-24.1,39) (-23.3,40) (-22.4,41) (-21.5,41) (-20.7,42) (-19.8,43) (-19,44) (-18.1,43) (-17.5,40) (-16.8,33) (-16.4,21) (-15.7,13) (-15.3,8) (-14.9,3) (-12.9,8) (-11.6,10) (-10.8,14) (-10.3,18) (-9.5,26) (-8.6,18) (-8.4,-36) (-8,-48) (-7.3,-47) (-6.9,-45) (-6.5,-49) (-6,-44) (-5.6,-41) (-4.7,-39) (-4.3,-38) (-3.4,-35) (-2.6,-32) (-1.7,-27) (-0.9,-21) (0,-18) (0.9,-15.5) (1.7,-12) (2.6,-9) (3.4,-5) (3.9,-2.6) (4.3,-5)};
\addplot[blue, pts=2.5] coordinates {(-25.6,36) (-25,41) (-24.6,44) (-24.1,43) (-23.7,45) (-23.3,46) (-22.8,46) (-22.4,47) (-22,48) (-21.5,48) (-21.1,49) (-20.7,50) (-20.3,51) (-19.8,52) (-19.4,53) (-19,54) (-18.8,54) (-17.9,33) (-17.6,11) (-17.2,-15) (-16.8,-19) (-16.4,-20) (-15.9,-20) (-15.5,-19.5) (-15.1,-19) (-14.7,-18) (-14.2,-15) (-13.8,-12) (-12.9,-5) (-12.1,0) (-11.2,5) (-10.3,14) (-9.9,21) (-9.1,30) (-8.6,39) (-7.8,44) (-6.9,49) (-6,52) (-5.2,54) (-4.3,52) (-3.4,59) (-2.6,66) (-1.7,80) (-1.1,-17) (-0.6,-13) (0,-10) (0.9,-8) (1.7,-6) (2.2,-5) (3,-4) (3.9,-3) (4.3,-2.6) (4.7,-1) (5.2,1) (5.6,3) (6,5) (6.5,8) (6.7,10)};
\addplot[black, pts=2] coordinates {(-14.7,-8) (-13.8,-6) (-12.9,-3) (-12.1,2) (-11.2,8) (-10.3,17) (-9.5,28) (-8.6,40) (-8.2,46) (-7.3,51) (-6.9,54) (-6,64) (-5.8,67) (-5.2,60) (-4.7,46) (-4.3,52) (-3.4,59) (-2.6,67) (-1.7,77) (-0.6,85) (-0.4,-36) (0,-21) (0.4,-13) (0.9,-5) (1.3,-6) (1.7,-4) (2.6,-17) (3,-15) (3.4,-21) (6.5,-74) (7.3,-88) (7.6,-84) (8,-80) (8.6,-82) (9.1,-79) (9.5,-77)};
\addplot[mplorange, pts=2] coordinates {(-15.1,-10) (-14.3,-9) (-13.8,-8) (-12.9,-4) (-12.1,0) (-11.2,6) (-10.3,13) (-9.5,23) (-8.6,33) (-7.8,43) (-6.9,51) (-6,54) (-5.2,54) (-4.3,56) (-3,64) (-2.2,70) (-1.3,75) (-0.4,80) (0,77) (0.4,70) (0.6,49) (1.3,8) (1.7,13) (2.2,28)};
\node[anchor=west] at (rel axis cs:0.024,0.69) {(a)};
\node[anchor=east] at (rel axis cs:0.98,0.81) {2020-11-22};
\end{axis}
\begin{axis}[flux, BR, at={(282pt,-383.3pt)}, ymin=-0.08, ymax=1.32, ytick={0,1}, yticklabels={0,1}, minor ytick={0.2,0.4,0.6,0.8,1.2}]
\addplot[mplorange,Iline] coordinates {(-36.5,0) (-20,0.004) (-16,0.012) (-14.5,0.02) (-13.8,0.028) (-12.9,0.07) (-12.1,0.127) (-11.2,0.21) (-10.3,0.306) (-9.7,0.38) (-9.1,0.405) (-8.4,0.39) (-7.6,0.34) (-6.6,0.28) (-5.6,0.254) (-4.8,0.29) (-4,0.38) (-3,0.444) (-2.3,0.46) (-1.7,0.484) (-1.2,0.6) (-0.7,0.85) (-0.3,1.1) (0.2,1.246) (0.8,1.13) (1.3,0.92) (1.7,0.68) (2.2,0.44) (2.8,0.24) (3.4,0.127) (4.2,0.08) (5.2,0.06) (7,0.045) (8.6,0.036) (11,0.02) (14,0.01)};
\addplot[mplorange,Lline] coordinates {(-36.5,0) (-16,0.006) (-14,0.025) (-12,0.09) (-10,0.18) (-8.2,0.218) (-7,0.17) (-6,0.115) (-5,0.12) (-3.4,0.139) (-2,0.16) (-0.9,0.2) (-0.3,0.12) (0.4,0.028) (0.9,0.045) (1.3,0.048) (2,0.025) (2.6,0.008) (5,0.003) (14,0)};
\addplot[mplorange,Vline] coordinates {(-36.5,0) (-15,0.004) (-13,0.025) (-11,0.09) (-9.3,0.127) (-8.3,0.1) (-7.3,0.03) (-6,-0.02) (-4,-0.015) (-2.2,-0.012) (-1,0) (0,0.016) (1.3,0.028) (2,0.01) (2.6,0) (14,0)};
\leg{mplorange}{1.21524}{0.32237}{1.0581}{0.77238}{0.48666}
\node[anchor=west] at (rel axis cs:0.024,0.82) {(b) cW};
\node[anchor=west] at (rel axis cs:0.024,0.42) {3491\textit{P}\textsubscript{0}};
\end{axis}
\begin{axis}[flux, BR, at={(282pt,-442.1pt)}, ymin=-0.167, ymax=1.365, ytick={0,1}, yticklabels={0,1}, minor ytick={0.2,0.4,0.6,0.8,1.2}]
\addplot[black,Iline] coordinates {(-36.5,0) (-20,0.002) (-16.5,0.008) (-14.7,0.02) (-13.8,0.04) (-12.9,0.077) (-12,0.16) (-11.2,0.236) (-10.5,0.32) (-9.9,0.386) (-9.2,0.41) (-8.6,0.42) (-7.8,0.438) (-7.2,0.52) (-6.5,0.644) (-5.9,0.71) (-5.4,0.72) (-4.7,0.715) (-4.1,0.708) (-3.4,0.66) (-2.6,0.61) (-2,0.68) (-1.3,0.86) (-0.6,1.1) (0.2,1.28) (0.8,1.18) (1.3,0.99) (1.9,0.65) (2.4,0.386) (2.9,0.22) (3.4,0.15) (4.2,0.1) (5.2,0.077) (7,0.055) (8.6,0.043) (11,0.028) (14,0.013)};
\addplot[black,Lline] coordinates {(-36.5,0) (-14.5,0.005) (-12.9,0.02) (-11.5,0.07) (-10.3,0.13) (-9.2,0.2) (-8.2,0.236) (-7.3,0.19) (-6.5,0.13) (-5,0.05) (-4.4,0.09) (-3.9,0.116) (-2.8,0.14) (-1.7,0.163) (-1.1,0.1) (-0.6,0.02) (0,0.05) (0.6,0.077) (1.2,0.04) (1.9,0.009) (14,0)};
\addplot[black,Vline] coordinates {(-36.5,0) (-14,0.002) (-12.9,0.005) (-11,0.06) (-9.5,0.13) (-8.5,0.1) (-7.3,0.02) (-6.3,-0.05) (-5.4,-0.086) (-4.5,-0.04) (-3.4,0) (-2.5,-0.02) (-1.7,-0.034) (-0.8,0) (0,0.034) (0.9,0.02) (1.7,0) (14,0)};
\leg{black}{1.25036}{0.27331}{1.07841}{0.76574}{0.45309}
\node[anchor=west] at (rel axis cs:0.024,0.82) {(c) cB};
\node[anchor=west] at (rel axis cs:0.024,0.42) {2987\textit{P}\textsubscript{0}};
\end{axis}
\begin{axis}[flux, BR, at={(282pt,-500.9pt)}, ymin=-0.06, ymax=1.15, ytick={0,1}, yticklabels={0,1}, minor ytick={0.2,0.4,0.6,0.8}]
\addplot[red,Iline] coordinates {(-36.5,0) (-32,0.003) (-30.2,0.007) (-28,0.018) (-25.9,0.035) (-24.5,0.07) (-23.3,0.12) (-22.4,0.18) (-21.6,0.243) (-20.7,0.34) (-19.8,0.45) (-18.9,0.6) (-18.1,0.764) (-17.6,0.87) (-17.2,0.97) (-16.8,1.05) (-16.4,1.094) (-16,1.04) (-15.5,0.9) (-15.1,0.84) (-14.7,0.816) (-14.1,0.76) (-13.4,0.694) (-12.8,0.61) (-12.1,0.538) (-11.4,0.514) (-10.9,0.55) (-10.3,0.573) (-9.5,0.556) (-8.9,0.5) (-8.2,0.434) (-7.5,0.445) (-6.9,0.444) (-6.3,0.41) (-5.8,0.382) (-5,0.31) (-4.3,0.243) (-3.4,0.18) (-2.6,0.139) (-1.5,0.115) (-0.4,0.097) (0.5,0.065) (1.3,0.042) (2,0.02) (2.6,0.01) (5,0.002) (14,0)};
\addplot[red,Lline] coordinates {(-36.5,0) (-28,0.005) (-24,0.03) (-21,0.06) (-18.5,0.08) (-17,0.055) (-14.5,0.06) (-13,0.05) (-12,0.02) (-11,0.03) (-10,0.06) (-9,0.06) (-8,0.02) (-6,0.07) (-5,0.1) (-3,0.08) (-1,0.08) (0.5,0.05) (2,0.015) (4,0) (14,0)};
\addplot[red,Vline] coordinates {(-36.5,0) (-28,0.003) (-23,0.02) (-19,0.04) (-16,0.05) (-14,0.03) (-12,0.005) (-10,-0.005) (-8,0.03) (-6,0.05) (-4,0.04) (-2,0.03) (0,0.015) (2,0.003) (5,0) (14,0)};
\leg{red}{1.05946}{0.28777}{0.92365}{0.6767}{0.42976}
\node[anchor=west] at (rel axis cs:0.024,0.82) {(d) A};
\node[anchor=west] at (rel axis cs:0.024,0.42) {578\textit{P}\textsubscript{0}};
\end{axis}
\begin{axis}[flux, BR, bottom, at={(282pt,-559.7pt)}, ymin=-0.107, ymax=0.858, ytick={0,0.5}, yticklabels={0.0,0.5}, minor ytick={0.1,0.2,0.3,0.4,0.6,0.7,0.8}]
\addplot[blue,Iline] coordinates {(-36.5,0) (-30,0.004) (-28,0.008) (-25.9,0.025) (-24.1,0.057) (-22.4,0.112) (-20.7,0.221) (-19.4,0.33) (-18.1,0.467) (-17.2,0.563) (-16.4,0.604) (-15.5,0.598) (-14.7,0.571) (-13.8,0.555) (-12.5,0.522) (-11.4,0.462) (-10.6,0.535) (-9.5,0.563) (-8.4,0.585) (-7.8,0.582) (-6.9,0.686) (-6,0.8) (-5,0.727) (-3.9,0.735) (-3,0.672) (-2.2,0.631) (-1.3,0.7) (-0.4,0.631) (0.4,0.563) (0.9,0.45) (1.3,0.358) (2.2,0.194) (3.2,0.098) (4.2,0.07) (5.2,0.057) (7,0.045) (8.6,0.036) (11,0.02) (14,0.008)};
\addplot[blue,Lline] coordinates {(-36.5,0) (-28,0) (-24,0.01) (-21,0.03) (-19,0.05) (-18,0.01) (-17,0.05) (-15.5,0.15) (-14,0.18) (-13,0.22) (-12,0.21) (-11.5,0.18) (-10,0.25) (-9,0.24) (-8,0.18) (-7.5,0.1) (-6.3,0.12) (-5.4,0.07) (-4.5,0.08) (-3.7,0.14) (-3,0.1) (-2,0.03) (-1.5,0.01) (-0.8,0.12) (0,0.275) (0.6,0.26) (1.3,0.17) (2,0.1) (3,0.05) (5,0.015) (8,0.004) (14,0)};
\addplot[blue,Vline] coordinates {(-36.5,0) (-28,0) (-20,0.01) (-17,0.02) (-14,0) (-11,0) (-8,-0.005) (-6.5,-0.04) (-6,-0.07) (-5,-0.04) (-3,-0.01) (-1,0.01) (0,0.03) (1,0.025) (3,0.01) (6,0.003) (14,0)};
\leg{blue}{0.78579}{0.17035}{0.67748}{0.48053}{0.28359}
\node[anchor=west] at (rel axis cs:0.024,0.82) {(e) Af};
\node[anchor=west] at (rel axis cs:0.024,0.42) {1001\textit{P}\textsubscript{0}};
\end{axis}
\pgfresetboundingbox
\useasboundingbox (0pt,0pt) rectangle (478pt,-644pt);
\end{tikzpicture}
\end{document}
